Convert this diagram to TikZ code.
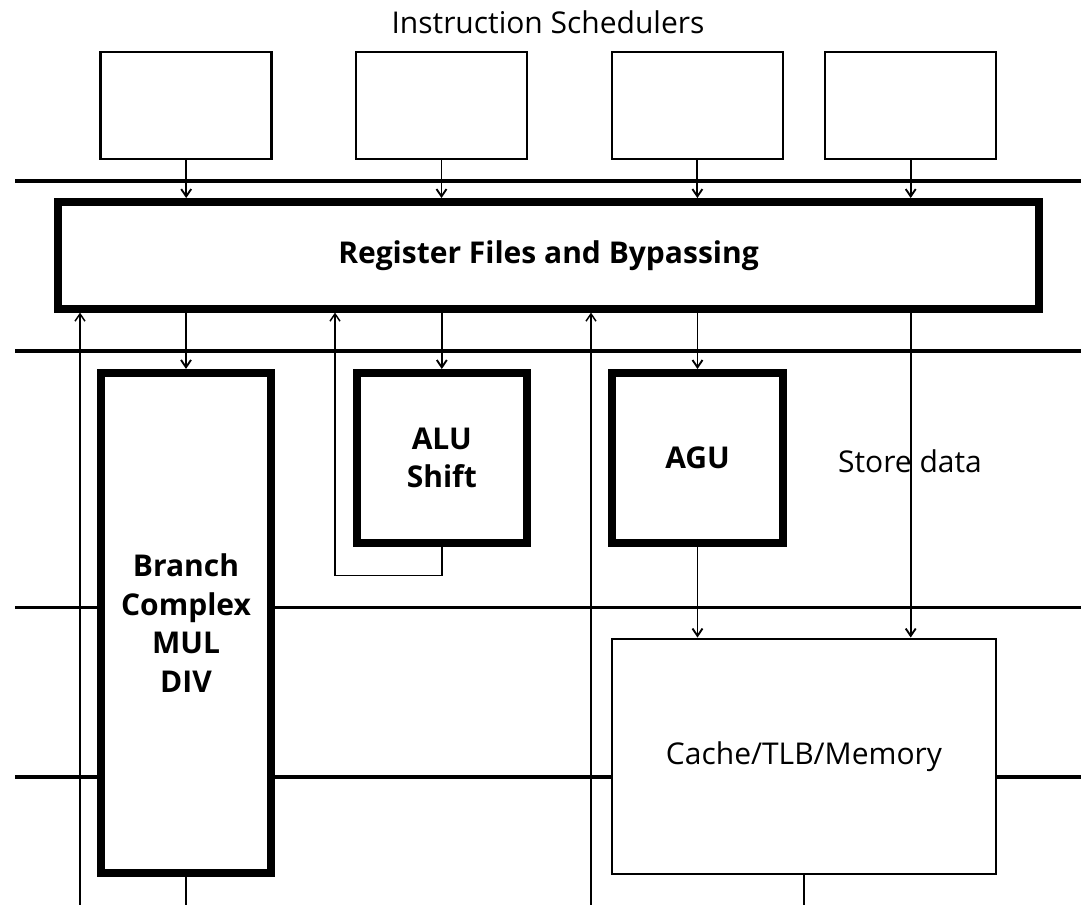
\documentclass[tikz,border=0pt]{standalone}
\usepackage{fontspec}
\setmainfont{Open Sans}
\usepackage{tikz}
\usetikzlibrary{arrows.meta,calc,positioning}
\tikzset{
  sched box/.style={rectangle,draw=black,fill=white,line width=1.9pt,
    minimum width=128.25pt,minimum height=80.25pt,inner sep=0pt},
  unit box/.style={rectangle,draw=black,fill=white,line width=6pt,
    align=center,font=\fontsize{22.5}{29}\selectfont\bfseries,inner sep=0pt},
  mem box/.style={rectangle,draw=black,fill=white,line width=2.2pt,
    font=\fontsize{22.5}{29}\selectfont,inner sep=0pt},
  bus line/.style={line width=2.3pt},
  flow edge/.style={-{Straight Barb[length=5.5pt,width=7.5pt]},line width=1.4pt},
  wire edge/.style={line width=1.1pt},
  plain label/.style={font=\fontsize{22.5}{29}\selectfont,inner sep=0pt}
}
\begin{document}
\begin{tikzpicture}[x=0.75pt,y=-0.75pt]
     \useasboundingbox (0,0) rectangle (1088,905);
     \node[plain label] (title) at (548,22) {Instruction Schedulers};
     % pipeline stage buses
     \foreach \y in {181,351,607.5,777}
       \draw[bus line] (15,\y) -- (1081,\y);
     \node[plain label] (storelabel) at (910,461) {Store data};
     \coordinate (leftin) at (80,905);
     \coordinate (midin) at (591,905);
     \coordinate (loopback) at (335,575.7);
     \node[sched box] (schedone) at (186.2,105.7) {};
     \node[sched box] (schedtwo) at (441.5,105.7) {};
     \node[sched box] (schedthree) at (697.4,105.7) {};
     \node[sched box] (schedfour) at (910.7,105.7) {};
     \node[unit box,minimum width=735.75pt,minimum height=79.9pt]
       (regfile) at (548.5,255.3) {\raisebox{-3pt}{Register Files and Bypassing}};
     \node[unit box,minimum width=127.5pt,minimum height=375.4pt]
       (branch) at (186,623.2) {Branch\\Complex\\MUL\\DIV};
     \node[unit box,minimum width=127.7pt,minimum height=127.5pt]
       (alu) at (441.8,458) {ALU\\Shift};
     \node[unit box,minimum width=128.25pt,minimum height=127.5pt]
       (agu) at (697.5,458) {AGU};
     \node[mem box,minimum width=288pt,minimum height=176.25pt]
       (cache) at (804,756.5) {Cache/TLB/Memory};
     \foreach \s in {one,two,three,four}
       \draw[flow edge] (sched\s.south) -- (sched\s.south |- regfile.north);
     \draw[flow edge] (regfile.south -| branch.north) -- (branch.north);
     \draw[flow edge] (regfile.south -| alu.north) -- (alu.north);
     \draw[flow edge] (regfile.south -| agu.north) -- (agu.north);
     \draw[flow edge] (agu.south) -- (agu.south |- cache.north);
     \draw[flow edge] (regfile.south -| schedfour.south) -- (cache.north -| schedfour.south);
     \draw[wire edge,-{Straight Barb[length=5.5pt,width=7.5pt]}] (alu.south) |- (loopback) -- (loopback |- regfile.south);
     \draw[wire edge,-{Straight Barb[length=5.5pt,width=7.5pt]}] (leftin) -- (leftin |- regfile.south);
     \draw[wire edge,-{Straight Barb[length=5.5pt,width=7.5pt]}] (midin) -- (midin |- regfile.south);
     \draw[wire edge] (branch.south) -- (branch.south |- leftin);
     \draw[wire edge] (cache.south) -- (cache.south |- leftin);
   \end{tikzpicture}
\end{document}
